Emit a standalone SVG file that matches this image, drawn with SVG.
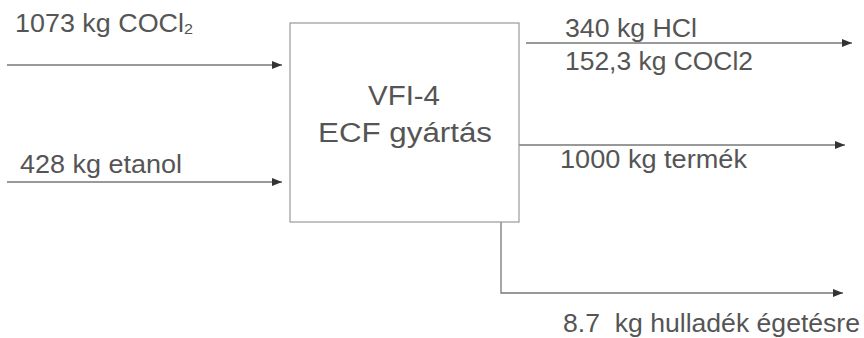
<svg xmlns="http://www.w3.org/2000/svg" width="864" height="338" viewBox="0 0 864 338">
  <style>
    .lbl { font-family: "Liberation Sans", Arial, sans-serif; font-size: 25px; fill: #555; }
    .big { font-family: "Liberation Sans", Arial, sans-serif; font-size: 27px; fill: #555; text-anchor: middle; }
    .flow { fill: none; stroke: #777; stroke-width: 1.3; }
  </style>
  <defs>
    <marker id="arr" viewBox="0 0 10 8" refX="10" refY="4" markerWidth="10" markerHeight="8" markerUnits="userSpaceOnUse" orient="auto">
      <path d="M0,0 L10,4 L0,8 z" fill="#333"/>
    </marker>
  </defs>
  <rect width="864" height="338" fill="#fff"/>

  <g id="connectors">
    <line class="flow" x1="7" y1="65" x2="282" y2="65" marker-end="url(#arr)"/>
    <line class="flow" x1="7" y1="182" x2="282" y2="182" marker-end="url(#arr)"/>
    <line class="flow" x1="526" y1="43" x2="852" y2="43" marker-end="url(#arr)"/>
    <line class="flow" x1="519" y1="145" x2="845" y2="145" marker-end="url(#arr)"/>
    <polyline class="flow" points="501,222 501,293 843,293" marker-end="url(#arr)"/>
  </g>

  <g id="process">
    <rect x="290" y="23" width="229" height="199" fill="#fff" stroke="#999" stroke-width="1.2"/>
    <text class="big" x="404" y="105" textLength="72" lengthAdjust="spacingAndGlyphs">VFI-4</text>
    <text class="big" x="405" y="142" textLength="174" lengthAdjust="spacingAndGlyphs">ECF gyártás</text>
  </g>

  <g id="in-cocl2">
    <text class="lbl" x="15" y="32" textLength="178" lengthAdjust="spacingAndGlyphs">1073 kg COCl<tspan font-size="15" dy="2">2</tspan></text>
  </g>
  <g id="in-etanol">
    <text class="lbl" x="20" y="173" textLength="162" lengthAdjust="spacingAndGlyphs">428 kg etanol</text>
  </g>
  <g id="out-gas">
    <text class="lbl" x="565" y="37" textLength="132" lengthAdjust="spacingAndGlyphs">340 kg HCl</text>
    <text class="lbl" x="565" y="70" textLength="188" lengthAdjust="spacingAndGlyphs">152,3 kg COCl2</text>
  </g>
  <g id="out-product">
    <text class="lbl" x="560" y="168" textLength="187" lengthAdjust="spacingAndGlyphs">1000 kg termék</text>
  </g>
  <g id="out-waste">
    <text class="lbl" x="563" y="332" textLength="297" lengthAdjust="spacingAndGlyphs" xml:space="preserve" style="white-space:pre">8.7  kg hulladék égetésre</text>
  </g>
</svg>
